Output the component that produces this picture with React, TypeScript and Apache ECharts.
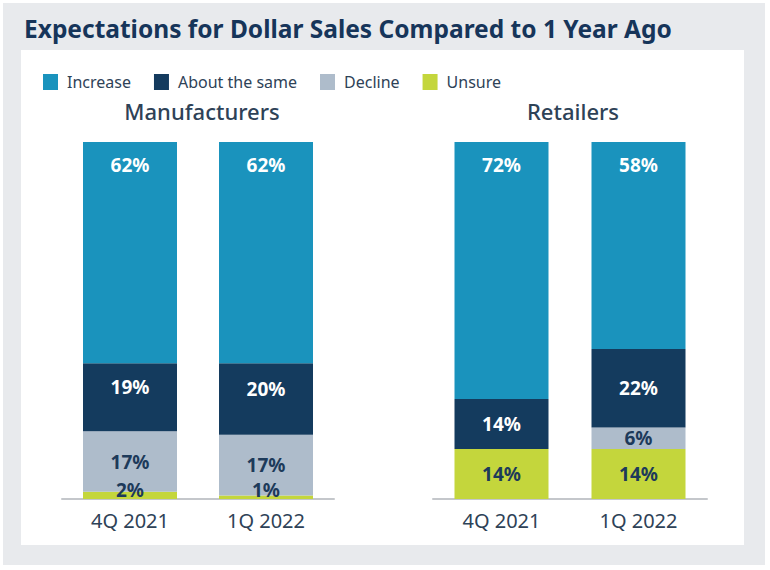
import React, { useEffect, useRef } from "react";
import * as echarts from "echarts";

const categories = ["4Q 2021", "1Q 2022"];
const seriesNames = ["Increase", "About the same", "Decline", "Unsure"];
const mfgIncrease = [62, 62];
const mfgSame = [19, 20];
const mfgDecline = [17, 17];
const mfgUnsure = [2, 1];
const retIncrease = [72, 58];
const retSame = [14, 22];
const retDecline = [0, 6];
const retUnsure = [14, 14];

const COLORS: Record<string, string> = {
  Increase: "#1a93bd",
  "About the same": "#143b5e",
  Decline: "#aebccb",
  Unsure: "#c4d63c",
};
const NAVY = "#1d3a5a";
const FONT = "'Noto Sans', Lato, sans-serif";

export default function App() {
  const ref = useRef<HTMLDivElement>(null);
  useEffect(() => {
    if (!ref.current) return;
    const chart = echarts.init(ref.current, undefined, { renderer: "svg" });

    const mk = (name: string, data: number[], gi: number, extra: any = {}) => {
      const light = name === "Decline" || name === "Unsure";
      return {
        name,
        type: "bar",
        stack: "s" + gi,
        xAxisIndex: gi,
        yAxisIndex: gi,
        barWidth: 94,
        data,
        itemStyle: { color: COLORS[name] },
        label: {
          show: true,
          position: name === "Increase" ? "insideTop" : "inside",
          distance: name === "Increase" ? 13 : 5,
          color: light ? NAVY : "#ffffff",
          fontFamily: FONT,
          fontWeight: "bold",
          fontSize: 19,
          formatter: (p: any) => (p.value ? p.value + "%" : ""),
          ...extra,
        },
      };
    };

    const xAxisBase = {
      type: "category",
      data: categories,
      axisLine: { lineStyle: { color: "#c4c7cb", width: 2 } },
      axisTick: { show: false },
      axisLabel: { fontSize: 20, color: "#2e4257", fontFamily: FONT, margin: 11 },
    };
    const yAxisBase = { type: "value", min: 0, max: 100, show: false, splitLine: { show: false } };

    chart.setOption({
      animation: false,
      backgroundColor: "#ffffff",
      graphic: [
        { type: "rect", z: -10, shape: { x: 3, y: 3, width: 762, height: 562 }, style: { fill: "#e8eaed" } },
        { type: "rect", z: -9, shape: { x: 21, y: 50, width: 723, height: 495 }, style: { fill: "#ffffff" } },
      ],
      title: [
        {
          text: "Expectations for Dollar Sales Compared to 1 Year Ago",
          left: 19,
          top: 11,
          textStyle: { fontSize: 24.5, fontWeight: "bold", color: "#16355a", fontFamily: FONT },
        },
        {
          text: "Manufacturers",
          left: 197,
          top: 95,
          textAlign: "center",
          textStyle: { fontSize: 22, fontWeight: 500, color: "#2e4257", fontFamily: FONT },
        },
        {
          text: "Retailers",
          left: 568,
          top: 95,
          textAlign: "center",
          textStyle: { fontSize: 22, fontWeight: 500, color: "#2e4257", fontFamily: FONT },
        },
      ],
      legend: {
        data: seriesNames,
        left: 38,
        top: 69,
        icon: "rect",
        itemWidth: 15,
        itemHeight: 16,
        itemGap: 23,
        textStyle: { fontSize: 16, color: "#2e4257", fontFamily: FONT, padding: [0, 0, 0, 4] },
      },
      grid: [
        { left: 62, top: 142, width: 272, height: 357 },
        { left: 433, top: 142, width: 274, height: 357 },
      ],
      xAxis: [
        { ...xAxisBase, gridIndex: 0 },
        { ...xAxisBase, gridIndex: 1 },
      ],
      yAxis: [
        { ...yAxisBase, gridIndex: 0 },
        { ...yAxisBase, gridIndex: 1 },
      ],
      series: [
        mk("Unsure", mfgUnsure, 0, { position: "insideBottom", distance: 0 }),
        mk("Decline", mfgDecline, 0),
        mk("About the same", mfgSame, 0, { offset: [0, -10] }),
        mk("Increase", mfgIncrease, 0),
        mk("Unsure", retUnsure, 1),
        mk("Decline", retDecline, 1),
        mk("About the same", retSame, 1),
        mk("Increase", retIncrease, 1),
      ],
    });
    return () => chart.dispose();
  }, []);
  return (
    <div
      ref={ref}
      style={{ position: "absolute", left: 0, top: 0, width: 770, height: 570 }}
    />
  );
}
